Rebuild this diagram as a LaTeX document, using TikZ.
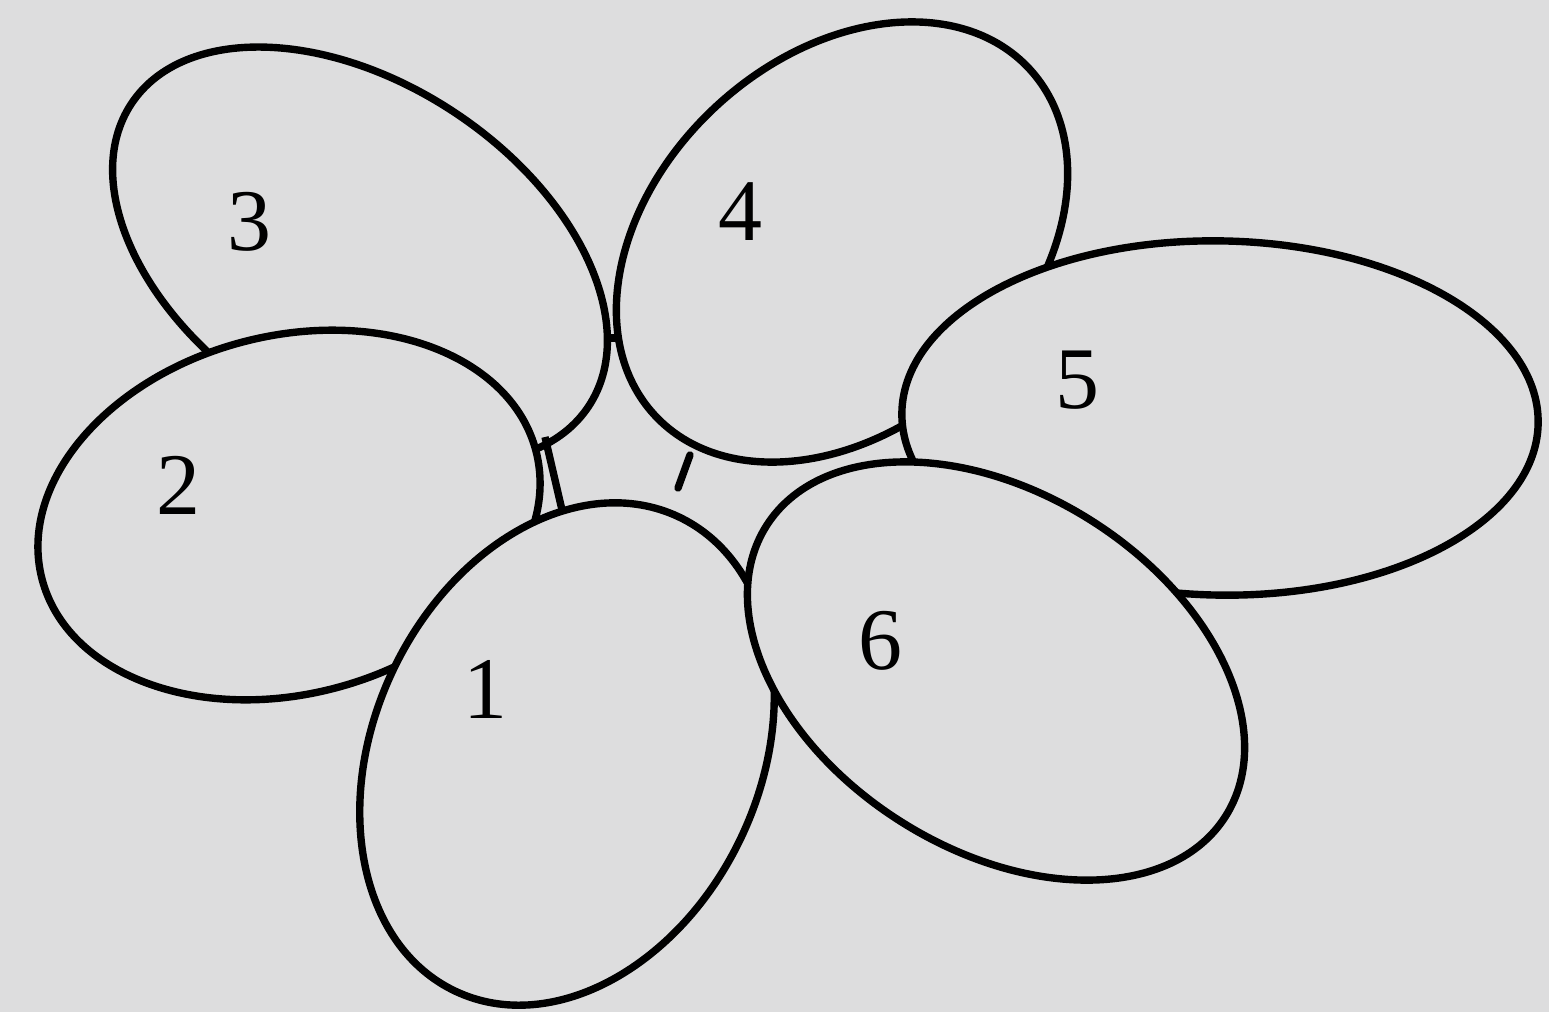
\documentclass[tikz,border=0pt]{standalone}
\usepackage{fontspec}
\setmainfont{Liberation Serif}
\usetikzlibrary{shapes.geometric}
\definecolor{paper}{RGB}{221,221,222}
\begin{document}
\begin{tikzpicture}[x=0.01cm,y=-0.01cm,
  petal/.style={draw=black, line width=2.1pt, fill=paper, ellipse, inner sep=0pt, outer sep=0pt},
  num/.style={font=\fontsize{25}{30}\selectfont, inner sep=0pt},
  stub/.style={line width=2.1pt}]
\fill[paper] (0,0) rectangle (1549,1012);
\useasboundingbox (0,0) rectangle (1549,1012);
% petals, back to front
\node[petal, minimum width=5.48cm, minimum height=3.42cm, rotate=-33.5] (e3) at (360,255) {};
\node[petal, minimum width=5.10cm, minimum height=3.58cm, rotate=14.5] (e2) at (289,515) {};
\node[petal, minimum width=5.10cm, minimum height=3.70cm, rotate=42.7] (e4) at (842,242) {};
\node[petal, minimum width=6.36cm, minimum height=3.54cm, rotate=-1] (e5) at (1220,418) {};
% small joining strokes
\coordinate (s3) at (606,338);
\coordinate (s4) at (620,338);
\draw[stub] (s3) -- (s4);
\coordinate (j3) at (545,437);
\coordinate (j1) at (562,510);
\draw[stub] (j3) -- (j1);
\node[petal, minimum width=5.24cm, minimum height=3.86cm, rotate=64.9] (e1) at (567,754) {};
\node[petal, minimum width=5.43cm, minimum height=3.56cm, rotate=-32.3] (e6) at (996,671) {};
\coordinate (t4) at (690,455);
\coordinate (t0) at (678,488);
\draw[stub, line cap=round] (t4) -- (t0);
% numbers
\node[num] (l3) at (249,222) {3};
\node[num] (l4) at (740,212) {4};
\node[num] (l2) at (178,485) {2};
\node[num] (l5) at (1077,380) {5};
\node[num] (l1) at (485,689) {1};
\node[num] (l6) at (880,641) {6};
\end{tikzpicture}
\end{document}
